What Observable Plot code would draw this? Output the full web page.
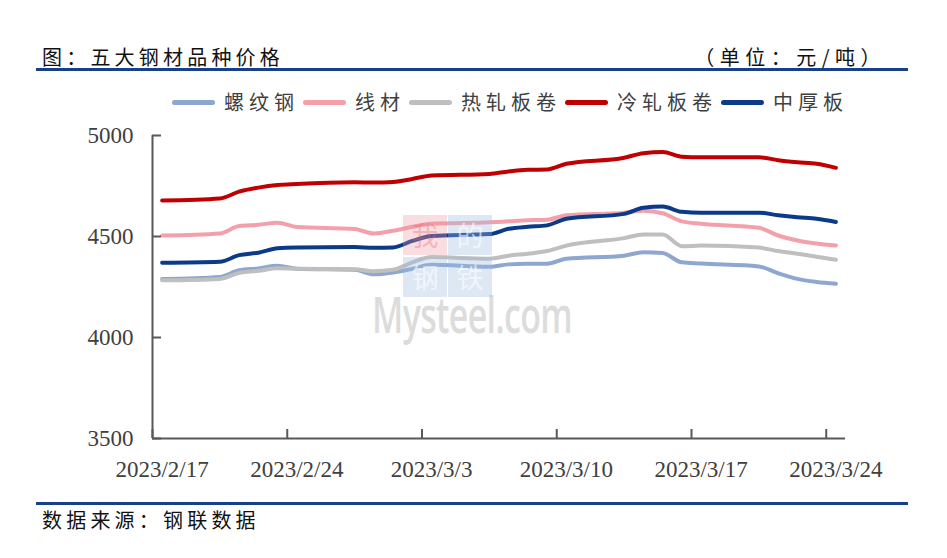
<!DOCTYPE html>
<html><head><meta charset="utf-8">
<script src="https://cdn.jsdelivr.net/npm/d3@7"></script>
<script src="https://cdn.jsdelivr.net/npm/@observablehq/plot@0.6"></script>
<style>
body{margin:0;background:#fff;}
#wrap{position:relative;width:947px;height:558px;overflow:hidden;font-family:"Noto Sans CJK SC",sans-serif;color:#111;}
.abs{position:absolute;}
#title{left:42px;top:45px;font-size:20px;letter-spacing:4.2px;line-height:24px;}
#unit{right:61px;top:45px;font-size:20px;letter-spacing:5.5px;line-height:24px;}
.rule{left:36px;width:872px;height:3px;background:#173f8a;}
#legend{left:172px;top:90px;display:flex;align-items:center;font-size:20px;letter-spacing:5px;color:#404040;line-height:24px;}
.item{display:flex;align-items:center;margin-right:4px;}
.sw{width:43px;height:5px;border-radius:3px;margin-right:9px;}
#chart{left:0;top:110px;}
#caption{left:42px;top:508px;font-size:20px;letter-spacing:4.2px;line-height:24px;}
.wm{position:absolute;width:44px;height:40px;font-size:27px;line-height:40px;text-align:center;pointer-events:none;}
#mys{left:372px;top:294px;font-family:"Open Sans",sans-serif;font-weight:600;font-size:50px;line-height:40px;letter-spacing:-1px;color:rgba(185,185,185,0.5);transform:scaleX(0.68);transform-origin:0 0;pointer-events:none;}
</style></head>
<body><div id="wrap">
<div id="title" class="abs">图：五大钢材品种价格</div>
<div id="unit" class="abs">（单位：元/吨）</div>
<div class="abs rule" style="top:68px"></div>
<div id="legend" class="abs"></div>
<div id="chart" class="abs"></div>
<div class="abs rule" style="top:502px"></div>
<div id="caption" class="abs">数据来源：钢联数据</div>
</div>
<script>
// ---- data ----
const dates = ["2023-02-17","2023-02-20","2023-02-21","2023-02-22","2023-02-23","2023-02-24",
  "2023-02-27","2023-02-28","2023-03-01","2023-03-02","2023-03-03",
  "2023-03-06","2023-03-07","2023-03-08","2023-03-09","2023-03-10",
  "2023-03-13","2023-03-14","2023-03-15","2023-03-16","2023-03-17",
  "2023-03-20","2023-03-21","2023-03-22","2023-03-23","2023-03-24"];
const rebar = [4290,4300,4333,4342,4355,4340,4335,4313,4322,4340,4360,4350,4362,4365,4365,4390,4405,4422,4418,4372,4366,4352,4318,4290,4275,4266];
const wire  = [4505,4515,4552,4558,4568,4547,4537,4515,4528,4548,4563,4570,4575,4580,4583,4605,4618,4628,4615,4575,4563,4543,4505,4480,4465,4455];
const hrc   = [4283,4290,4320,4330,4343,4340,4338,4328,4335,4372,4398,4390,4405,4415,4428,4455,4492,4510,4510,4452,4455,4445,4428,4415,4400,4385];
const crc   = [4678,4688,4722,4742,4755,4760,4768,4767,4770,4785,4802,4810,4822,4830,4832,4860,4890,4912,4918,4895,4892,4892,4878,4868,4860,4840];
const plate = [4370,4375,4408,4420,4442,4446,4448,4444,4446,4478,4503,4512,4538,4548,4555,4588,4612,4642,4648,4622,4617,4618,4605,4595,4588,4572];
const seriesNames  = ["螺纹钢","线材","热轧板卷","冷轧板卷","中厚板"];
const seriesValues = [rebar, wire, hrc, crc, plate];
const seriesColors = ["#8DA7CE","#F3A0AA","#BFBFBF","#C00000","#0B3A8A"];
const xTickDates = ["2023-02-17","2023-02-24","2023-03-03","2023-03-10","2023-03-17","2023-03-24"];
const xDomain = ["2023-02-17","2023-03-25"];
const yTicks = [3500,4000,4500,5000];

// ---- build ----
const DAY = 864e5;
const toDate = s => new Date(s + "T00:00:00Z");
const mid = s => new Date(toDate(s).getTime() + DAY/2);
const rows = [];
seriesNames.forEach((name, k) => {
  seriesValues[k].forEach((v, i) => rows.push({series: name, date: mid(dates[i]), value: v}));
});

// legend
const legend = document.getElementById("legend");
seriesNames.forEach((n, k) => {
  const it = document.createElement("div"); it.className = "item";
  const sw = document.createElement("div"); sw.className = "sw"; sw.style.background = seriesColors[k];
  const tx = document.createElement("span"); tx.textContent = n;
  it.appendChild(sw); it.appendChild(tx); legend.appendChild(it);
});

const fmt = d3.utcFormat("%Y/%-m/%-d");
const axisColor = "#595959";
const labelColor = "#404040";
const chart = Plot.plot({
  width: 947, height: 385,
  marginLeft: 152, marginRight: 102, marginTop: 25, marginBottom: 57,
  x: {type: "utc", domain: xDomain.map(toDate), axis: null, label: null},
  y: {domain: [3500, 5000], axis: null, label: null},
  color: {domain: seriesNames, range: seriesColors},
  style: {fontFamily: "'Liberation Serif', serif", fontSize: "23px", color: labelColor, background: "transparent"},
  marks: [
    Plot.line(rows, {x: "date", y: "value", z: "series", stroke: "series", strokeWidth: 4, curve: "monotone-x", strokeLinecap: "round", strokeLinejoin: "round"}),
    Plot.ruleX([toDate(xDomain[0])], {stroke: axisColor, strokeWidth: 2}),
    Plot.ruleY([yTicks[0]], {stroke: axisColor, strokeWidth: 2}),
    Plot.axisX(xTickDates.map(toDate), {tickSize: 9, dy: -9, tickFormat: () => "", label: null, stroke: axisColor, strokeWidth: 2}),
    Plot.axisX(xTickDates.map(mid), {tickSize: 0, tickPadding: 22, tickFormat: d => fmt(d), label: null, fill: labelColor}),
    Plot.axisY(yTicks, {tickSize: 9, dx: 9, tickFormat: () => "", label: null, stroke: axisColor, strokeWidth: 2}),
    Plot.axisY(yTicks, {tickSize: 0, tickPadding: 19, tickFormat: d => String(d), label: null, fill: labelColor})
  ]
});
document.getElementById("chart").appendChild(chart);

// watermark (decorative)
const wrap = document.getElementById("wrap");
const wm = [["我",403,215,"rgba(240,150,160,0.32)","rgba(230,100,115,0.35)"],
            ["的",448,215,"rgba(160,190,225,0.35)","rgba(255,255,255,0.6)"],
            ["钢",403,257,"rgba(160,190,225,0.35)","rgba(255,255,255,0.6)"],
            ["铁",448,257,"rgba(160,190,225,0.35)","rgba(255,255,255,0.6)"]];
wm.forEach(([c,x,y,bg,fg]) => {
  const d = document.createElement("div"); d.className = "wm";
  d.style.left = x + "px"; d.style.top = y + "px"; d.style.background = bg;
  d.style.color = fg; d.textContent = c; wrap.appendChild(d);
});
const m = document.createElement("div"); m.id = "mys"; m.className = "abs"; m.textContent = "Mysteel.com"; wrap.appendChild(m);
</script>
</body></html>
